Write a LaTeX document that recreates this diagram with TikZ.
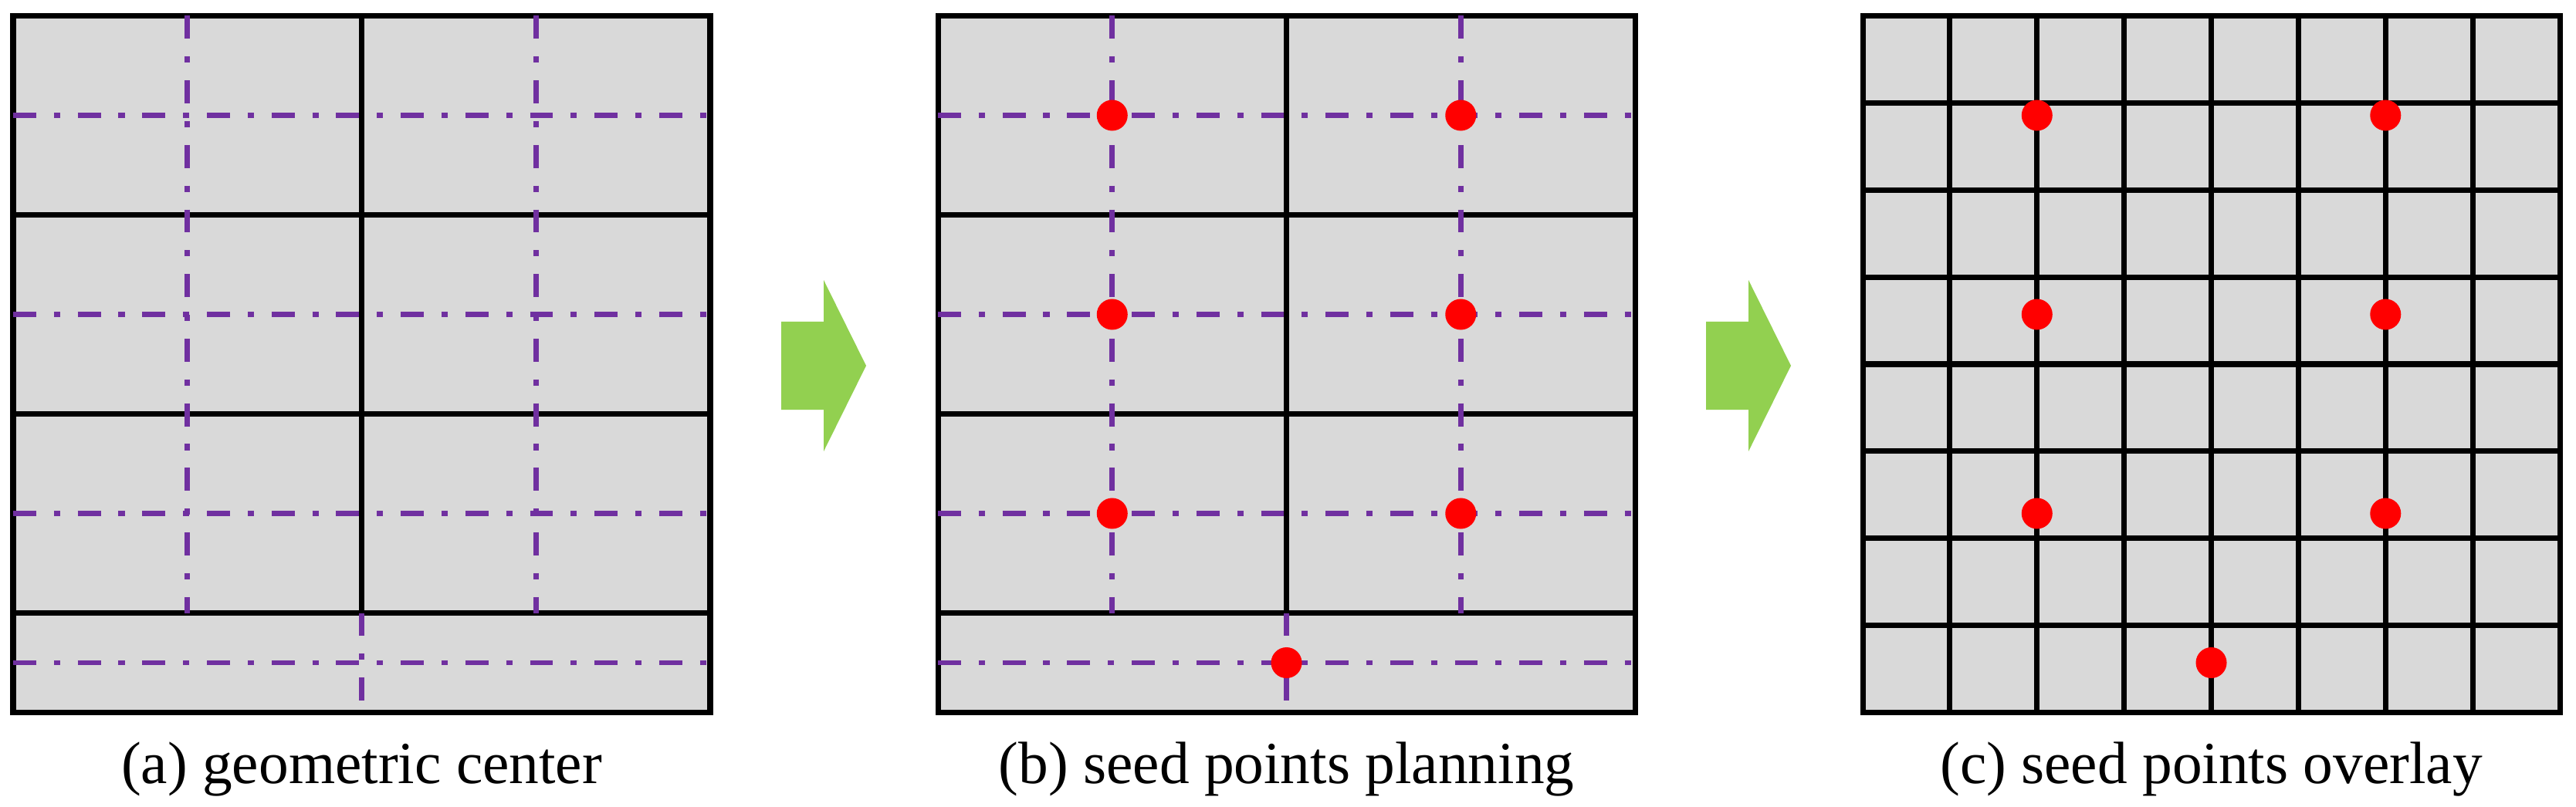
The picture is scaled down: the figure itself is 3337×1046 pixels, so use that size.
\documentclass[tikz,border=0pt]{standalone}
\usepackage{fontspec}
\setmainfont{Liberation Serif}
\usepackage{tikz}
\usetikzlibrary{positioning}
\definecolor{cellgrey}{HTML}{D9D9D9}
\definecolor{centerpurple}{HTML}{7030A0}
\definecolor{seedred}{HTML}{FF0000}
\definecolor{flowgreen}{HTML}{92D050}
\tikzstyle{panel} = [draw=black, fill=cellgrey, line width=2pt]
\tikzstyle{cut} = [draw=black, line width=2pt]
\tikzstyle{midline} = [draw=centerpurple, line width=1.9pt, dash pattern=on 8.5pt off 6.5pt on 2.3pt off 6.5pt]
\tikzstyle{seed} = [circle, fill=seedred, draw=none, inner sep=0pt, minimum size=0.4cm]
\tikzstyle{caption} = [anchor=base, inner sep=0pt, font=\fontsize{22}{26}\selectfont]
\tikzstyle{flow} = [fill=flowgreen, draw=none]
% coarse partition with centre lines, 903 x 903 units
\newcommand{\coarsepart}{%
  \path[panel] (0,0) rectangle (903,903);
  \path[cut] (0,258) -- (903,258);
  \path[cut] (0,516) -- (903,516);
  \path[cut] (0,774) -- (903,774);
  \path[cut] (451.5,0) -- (451.5,774);
  \path[draw=black, line width=2pt] (0,0) rectangle (903,903);
  \path[midline] (0,129) -- (903,129);
  \path[midline] (0,387) -- (903,387);
  \path[midline] (0,645) -- (903,645);
  \path[midline] (0,838.5) -- (903,838.5);
  \path[midline] (225.75,0) -- (225.75,774);
  \path[midline] (677.25,0) -- (677.25,774);
  \path[midline] (451.5,774) -- (451.5,903);
}
\newcommand{\flowarrow}[1]{%
  \fill[flow] (#1) ++(0,-57) -- ++(55,0) -- ++(0,-54) -- ++(55,111)
    -- ++(-55,111) -- ++(0,-54) -- ++(-55,0) -- cycle;
}

\begin{document}
\begin{tikzpicture}[x=0.01cm, y=-0.01cm]
\useasboundingbox (0,0) rectangle (3337,1046);

% panel (a) =============================
\begin{scope}[shift={(17,20.5)}]
\coarsepart
\node[caption] (capa) at (451.5,994.5) {(a) geometric center};
\end{scope}

% panel (b) =============================
\begin{scope}[shift={(1215,20.5)}]
\coarsepart
\node[seed] (b1) at (225.75,129) {};
\node[seed] (b2) at (677.25,129) {};
\node[seed] (b3) at (225.75,387) {};
\node[seed] (b4) at (677.25,387) {};
\node[seed] (b5) at (225.75,645) {};
\node[seed] (b6) at (677.25,645) {};
\node[seed] (b7) at (451.5,838.5) {};
\node[caption] (capb) at (451.5,994.5) {(b) seed points planning};
\end{scope}

% panel (c) =============================
\begin{scope}[shift={(2413,20.5)}]
\path[panel] (0,0) rectangle (903,903);
% fine grid
\path[cut] (112.875,0) -- (112.875,903);
\path[cut] (225.75,0) -- (225.75,903);
\path[cut] (338.625,0) -- (338.625,903);
\path[cut] (451.5,0) -- (451.5,903);
\path[cut] (564.375,0) -- (564.375,903);
\path[cut] (677.25,0) -- (677.25,903);
\path[cut] (790.125,0) -- (790.125,903);
\path[cut] (0,112.875) -- (903,112.875);
\path[cut] (0,225.75) -- (903,225.75);
\path[cut] (0,338.625) -- (903,338.625);
\path[cut] (0,451.5) -- (903,451.5);
\path[cut] (0,564.375) -- (903,564.375);
\path[cut] (0,677.25) -- (903,677.25);
\path[cut] (0,790.125) -- (903,790.125);
\path[draw=black, line width=2pt] (0,0) rectangle (903,903);
\node[seed] (c1) at (225.75,129) {};
\node[seed] (c2) at (677.25,129) {};
\node[seed] (c3) at (225.75,387) {};
\node[seed] (c4) at (677.25,387) {};
\node[seed] (c5) at (225.75,645) {};
\node[seed] (c6) at (677.25,645) {};
\node[seed] (c7) at (451.5,838.5) {};
\node[caption] (capc) at (451.5,994.5) {(c) seed points overlay};
\end{scope}

% arrows between panels =================
\coordinate (fa) at (1012,474);
\coordinate (fb) at (2210,474);
\flowarrow{fa}
\flowarrow{fb}

\end{tikzpicture}
\end{document}
